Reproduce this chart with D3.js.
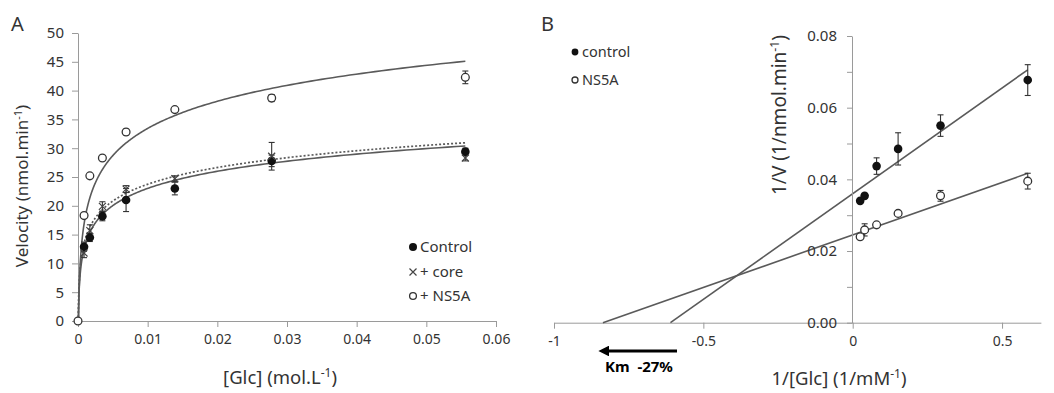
<!DOCTYPE html>
<html><head><meta charset="utf-8">
<script src="https://cdn.jsdelivr.net/npm/d3@7"></script>
<style>
body{margin:0;background:#fff;}
svg text{font-family:"Noto Sans","Open Sans",sans-serif;fill:#333;}
</style></head>
<body><svg id="c" width="1054" height="393"></svg>
<script>
// ---------- Panel A data ----------
const glc      = [0, 0.00087, 0.0017, 0.0035, 0.0069, 0.0139, 0.0278, 0.0556];
const vControl = [null, 12.9, 14.5, 18.2, 21.0, 23.0, 27.8, 29.4];
const eControl = [0, 0.8, 0.7, 0.8, 2.0, 1.1, 1.0, 0.6];
const vCore    = [null, 11.8, 15.7, 19.9, 22.9, 24.7, 28.6, 28.3];
const eCore    = [0, 0.8, 1.0, 0.8, 0.6, 0.5, 2.4, 0.5];
const vNS5A    = [0, 18.3, 25.2, 28.3, 32.8, 36.7, 38.7, 42.3];
const eNS5A    = [0, 0.3, 0.3, 0.3, 0.5, 0.3, 0.6, 1.1];
// logarithmic trend lines (y = a ln x + b): control, core, NS5A
const trendA = [4.3, 4.2, 6.8];
const trendB = [42.82, 43.08, 64.75];
const xTicksA = [0, 0.01, 0.02, 0.03, 0.04, 0.05, 0.06];
const yTicksA = [0, 5, 10, 15, 20, 25, 30, 35, 40, 45, 50];
const legendA = ["Control", "+ core", "+ NS5A"];

// ---------- Panel B data ----------
const invGlc    = [0.025, 0.040, 0.080, 0.152, 0.294, 0.586];
const invVCtrl  = [0.0340, 0.0354, 0.0437, 0.0485, 0.0550, 0.0677];
const errCtrl   = [0.0006, 0.0006, 0.0023, 0.0045, 0.0030, 0.0043];
const invVNS5A  = [0.0240, 0.0259, 0.0273, 0.0305, 0.0354, 0.0395];
const errNS5A   = [0.0003, 0.0017, 0.0003, 0.0003, 0.0015, 0.0022];
const lbSlope     = [0.059, 0.0293];
const lbIntercept = [0.036, 0.0245];
const xTicksB = [-1, -0.5, 0, 0.5];
const xTickLabelsB = ["-1", "-0.5", "0", "0.5"];
const yTicksB = [0, 0.01, 0.02, 0.03, 0.04, 0.05, 0.06, 0.07, 0.08];
const legendB = ["control", "NS5A"];

const svg = d3.select("#c");
svg.append("rect").attr("width",1054).attr("height",393).attr("fill","#fff");
const axisCol = "#9a9a9a", lineCol = "#5a5a5a", ptCol = "#111";

function styleAxis(g, fs){
  g.selectAll("path.domain").attr("stroke", axisCol);
  g.selectAll(".tick line").attr("stroke", axisCol);
  g.selectAll(".tick text").attr("font-size", fs).attr("fill","#333")
    .attr("font-family","Noto Sans, Open Sans, sans-serif");
}
function title(x, y, rot, fs, main){
  const t = svg.append("text").attr("transform",`translate(${x},${y})${rot?" rotate(-90)":""}`)
    .attr("text-anchor","middle").attr("font-size",fs);
  t.append("tspan").text(main);
  t.append("tspan").attr("dy",-fs*0.38).attr("font-size",fs*0.65).text("-1");
  t.append("tspan").attr("dy",fs*0.38).text(")");
}

// ================= Panel A =================
const xA = d3.scaleLinear().domain([0, 0.06]).range([78, 496]);
const yA = d3.scaleLinear().domain([0, 50]).range([321, 33]);

const gxA = svg.append("g").attr("transform","translate(0,321)")
  .call(d3.axisBottom(xA).tickValues(xTicksA).tickSize(6).tickSizeOuter(0).tickPadding(7).tickFormat(d=>String(d)));
styleAxis(gxA, 14);
const gyA = svg.append("g").attr("transform","translate(78,0)")
  .call(d3.axisLeft(yA).tickValues(yTicksA).tickSize(6).tickSizeOuter(0).tickPadding(8).tickFormat(d=>String(d)));
styleAxis(gyA, 15);

// trend curves
const lineA = d3.line().x(d=>xA(d[0])).y(d=>yA(d[1]));
trendA.forEach((a,i)=>{
  const b = trendB[i];
  const x0 = Math.exp(-b/a), x1 = glc[glc.length-1];
  const pts = d3.range(0,301).map(k=>{
    const x = x0*Math.pow(x1/x0, k/300);
    return [x, a*Math.log(x)+b];
  });
  svg.append("path").datum(pts).attr("d", lineA).attr("fill","none")
    .attr("stroke", lineCol).attr("stroke-width", i===1?1.7:1.6)
    .attr("stroke-dasharray", i===1?"2,2":null);
});

// error bars
function errBars(xs, ys, es, xS, yS){
  const d = xs.map((x,i)=>({x, y:ys[i], e:es[i]})).filter(p=>p.y!==null && p.e>0);
  const g = svg.append("g").attr("stroke","#333").attr("stroke-width",1.1);
  d.forEach(p=>{
    const cx = xS(p.x);
    g.append("line").attr("x1",cx).attr("x2",cx).attr("y1",yS(p.y-p.e)).attr("y2",yS(p.y+p.e));
    [p.y-p.e, p.y+p.e].forEach(v=>g.append("line").attr("x1",cx-3).attr("x2",cx+3).attr("y1",yS(v)).attr("y2",yS(v)));
  });
}
errBars(glc, vControl, eControl, xA, yA);
errBars(glc, vCore, eCore, xA, yA);
errBars(glc, vNS5A, eNS5A, xA, yA);

function filled(x,y,r){ svg.append("circle").attr("cx",x).attr("cy",y).attr("r",r||4.3).attr("fill",ptCol); }
function open(x,y,r){ svg.append("circle").attr("cx",x).attr("cy",y).attr("r",r||3.9).attr("fill","#fff").attr("stroke","#333").attr("stroke-width",1.3); }
function cross(x,y){ const s=3.5; svg.append("path").attr("d",`M${x-s},${y-s}L${x+s},${y+s}M${x-s},${y+s}L${x+s},${y-s}`).attr("stroke","#444").attr("stroke-width",1.2); }

glc.forEach((x,i)=>{ if(vControl[i]!==null) filled(xA(x), yA(vControl[i])); });
glc.forEach((x,i)=>{ if(vCore[i]!==null) cross(xA(x), yA(vCore[i])); });
glc.forEach((x,i)=>{ if(vNS5A[i]!==null) open(xA(x), yA(vNS5A[i])); });

// legend A
const legYA = [247, 272, 296];
filled(413, legYA[0], 4); cross(413, legYA[1]); open(413, legYA[2], 3.4);
legendA.forEach((t,i)=>svg.append("text").attr("x",420).attr("y",legYA[i]+5).attr("font-size",15).text(t));

svg.append("text").attr("x",11).attr("y",31).attr("font-size",20).text("A");
title(28, 186, true, 17, "Velocity (nmol.min");
title(280, 384, false, 18.5, "[Glc] (mol.L");

// ================= Panel B =================
const xB = d3.scaleLinear().domain([-1, 0.63]).range([554, 554+1.63*298.7]);
const yB = d3.scaleLinear().domain([0, 0.08]).range([322.7, 36]);

const gxB = svg.append("g").attr("transform","translate(0,322.7)")
  .call(d3.axisBottom(xB).tickValues(xTicksB).tickSize(6).tickSizeOuter(0).tickPadding(7)
    .tickFormat((d,i)=>xTickLabelsB[i]));
styleAxis(gxB, 14);

// LB lines (drawn before y axis labels)
lbSlope.forEach((m,i)=>{
  const b = lbIntercept[i];
  const x0 = -b/m, x1 = invGlc[invGlc.length-1];
  svg.append("line").attr("x1",xB(x0)).attr("y1",yB(0)).attr("x2",xB(x1)).attr("y2",yB(m*x1+b))
    .attr("stroke",lineCol).attr("stroke-width",1.6);
});

const gyB = svg.append("g").attr("transform","translate(852,0)")
  .call(d3.axisLeft(yB).tickValues(yTicksB).tickSize(5).tickSizeOuter(0).tickPadding(10)
    .tickFormat(d=> (Math.round(d*100)%2===0) ? d3.format(".2f")(d) : ""));
styleAxis(gyB, 15);

errBars(invGlc, invVCtrl, errCtrl, xB, yB);
errBars(invGlc, invVNS5A, errNS5A, xB, yB);
invGlc.forEach((x,i)=>filled(xB(x), yB(invVCtrl[i])));
invGlc.forEach((x,i)=>open(xB(x), yB(invVNS5A[i])));

// legend B
filled(575, 52, 3.4); open(575, 80, 3);
svg.append("text").attr("x",582).attr("y",57).attr("font-size",14.5).text(legendB[0]);
svg.append("text").attr("x",582).attr("y",85).attr("font-size",14.5).text(legendB[1]);

svg.append("text").attr("x",541).attr("y",31).attr("font-size",20).text("B");
title(786, 115, true, 19, "1/V (1/nmol.min");
title(839, 385, false, 18.5, "1/[Glc] (1/mM");

// Km arrow
svg.append("defs").append("marker").attr("id","ah").attr("viewBox","0 0 10 10").attr("refX",2).attr("refY",5)
  .attr("markerWidth",3.6).attr("markerHeight",3.6).attr("orient","auto-start-reverse")
  .append("path").attr("d","M0,0L10,5L0,10z").attr("fill","#000");
svg.append("line").attr("x1",677).attr("y1",351).attr("x2",607).attr("y2",351)
  .attr("stroke","#000").attr("stroke-width",3).attr("marker-end","url(#ah)");
svg.append("text").attr("x",605).attr("y",372).attr("font-size",15).attr("font-weight","bold")
  .style("fill","#000").text("Km\u00a0\u00a0-27%");
</script></body></html>
